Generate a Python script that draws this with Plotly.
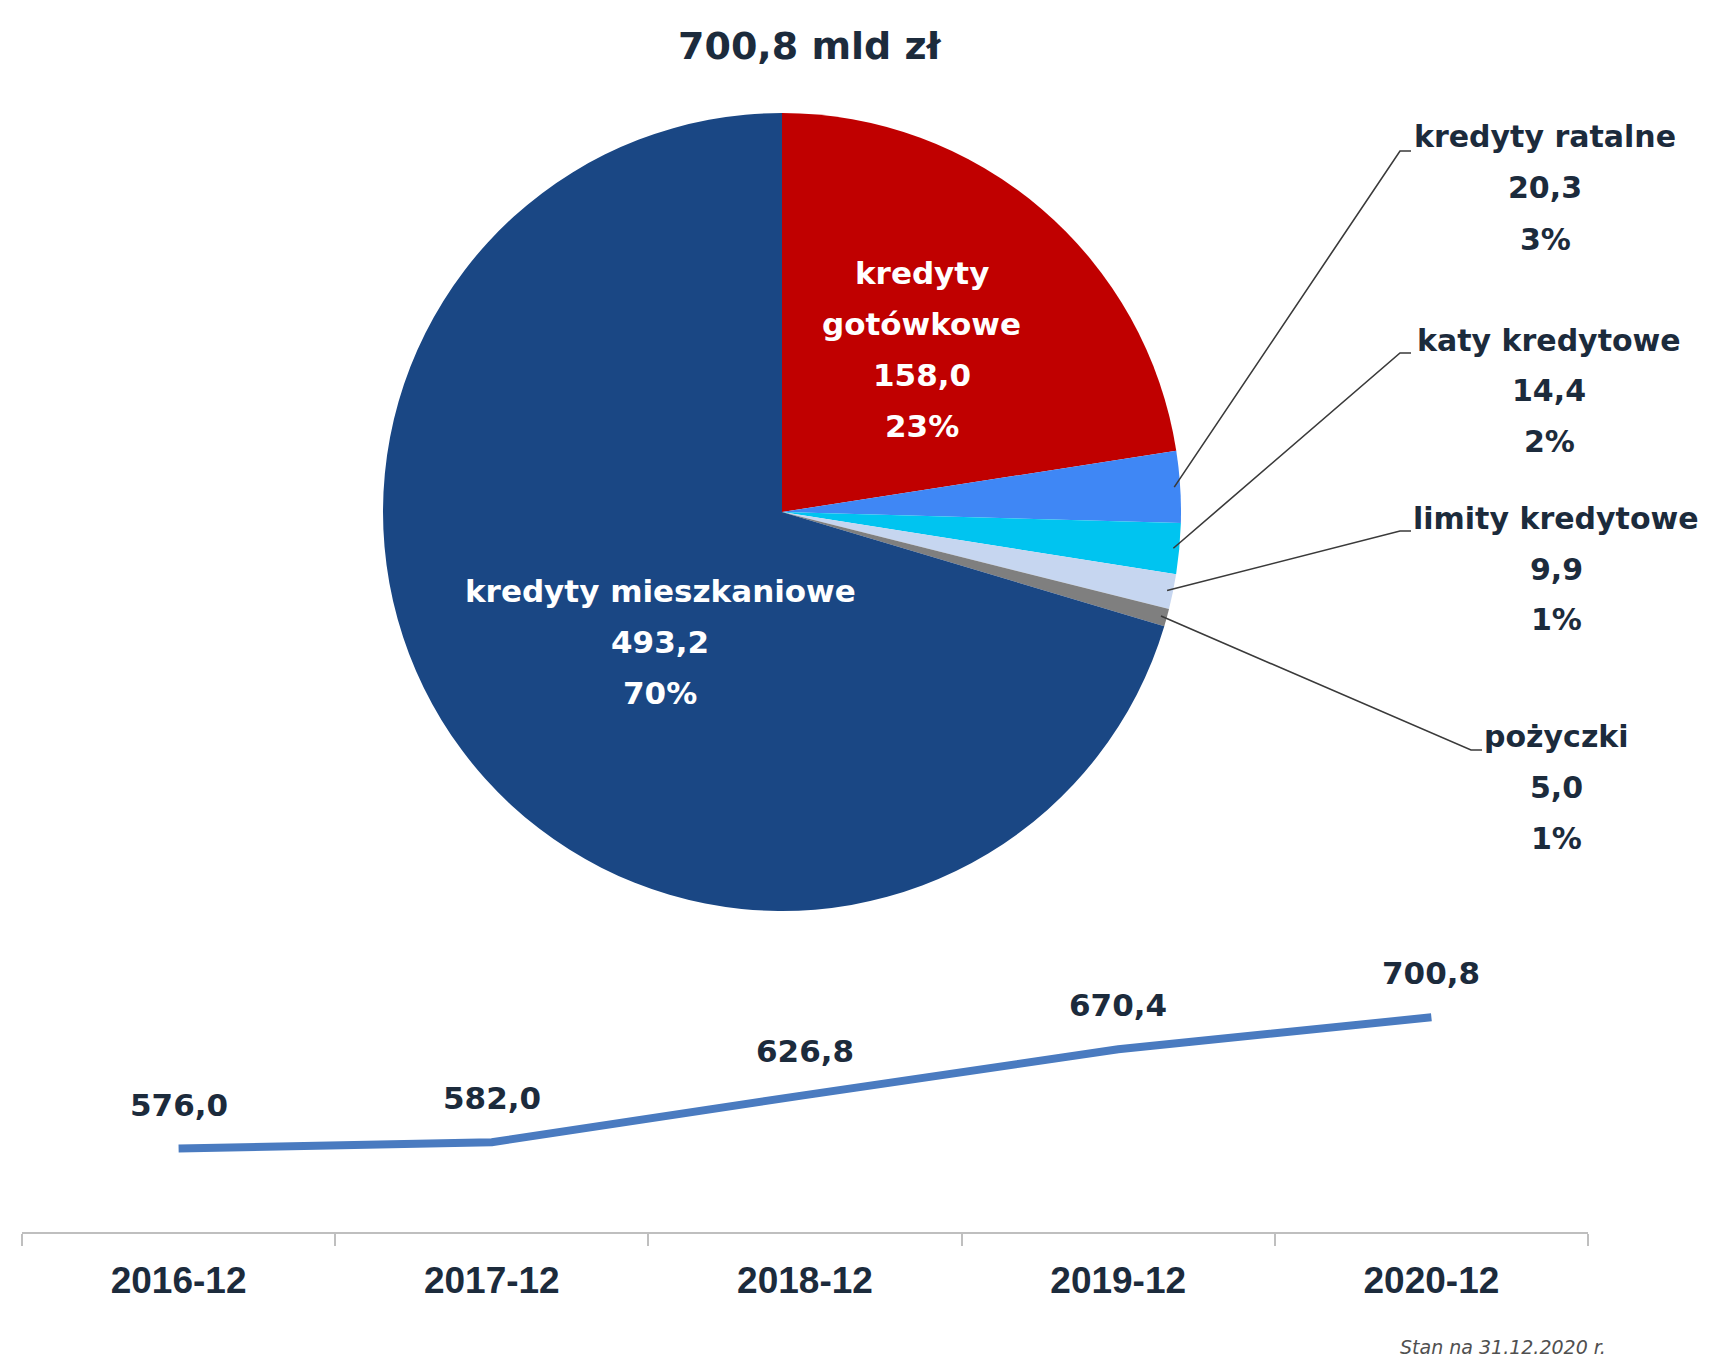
import math
import plotly.graph_objects as go

# ---------------- data ----------------
title_text = "700,8 mld zł"
pie_labels = ["kredyty gotówkowe", "kredyty ratalne", "katy kredytowe",
              "limity kredytowe", "pożyczki", "kredyty mieszkaniowe"]
pie_values = [158.0, 20.3, 14.4, 9.9, 5.0, 493.2]
pie_colors = ["#C00000", "#3F87F5", "#00C4F0", "#C6D6F0", "#7F7F7F", "#1A4784"]

years = ["2016-12", "2017-12", "2018-12", "2019-12", "2020-12"]
totals = [576.0, 582.0, 626.8, 670.4, 700.8]
footnote = "Stan na 31.12.2020 r."

# ---------------- layout constants ----------------
W, H = 1715, 1360
NAVY = "#1C2B3C"
FONT = "DejaVu Sans"
PCX, PCY, PR = 782, 512, 399          # pie centre / radius in px
LINE_STEP = 51


def px(x):
    return x / W


def py(y):
    return 1 - y / H


def fmt(v):
    return f"{v:.1f}".replace(".", ",")


total = sum(pie_values)

fig = go.Figure()

fig.add_trace(go.Pie(
    labels=pie_labels, values=pie_values, sort=False, direction="clockwise",
    rotation=0, marker=dict(colors=pie_colors, line=dict(width=0)),
    textinfo="none", hoverinfo="label+value+percent", showlegend=False,
    domain=dict(x=[px(PCX - PR), px(PCX + PR)], y=[py(PCY + PR), py(PCY - PR)]),
))

fig.add_trace(go.Scatter(
    x=years, y=totals, mode="lines", line=dict(color="#4A7BC0", width=8),
    xaxis="x", yaxis="y", showlegend=False, hoverinfo="x+y",
))

annotations = []
shapes = []


def add_lines(lines, xc, y0, size, color):
    for i, t in enumerate(lines):
        annotations.append(dict(
            x=px(xc), y=py(y0 + i * LINE_STEP), xref="paper", yref="paper",
            text=f"<b>{t}</b>", showarrow=False, xanchor="center", yanchor="middle",
            font=dict(family=FONT, size=size, color=color)))


# title
add_lines([title_text], 810, 46, 38, NAVY)

# angles
cum = 0.0
mids = []
for v in pie_values:
    mids.append((cum + v / 2) / total * 2 * math.pi)
    cum += v
pcts = [round(v / total * 100) for v in pie_values]

# inside labels
add_lines(["kredyty", "gotówkowe", fmt(pie_values[0]), f"{pcts[0]}%"], 922, 273, 31, "white")
add_lines([pie_labels[5], fmt(pie_values[5]), f"{pcts[5]}%"], 660, 591, 31, "white")

# outside labels with leader lines: (slice index, x centre, first line y, elbow x, elbow y)
outside = [(1, 1545, 137, 1400, 151),
           (2, 1549, 340, 1400, 353),
           (3, 1556, 518, 1400, 531),
           (4, 1556, 736, 1471, 750)]
for idx, xc, y0, ex, ey in outside:
    add_lines([pie_labels[idx], fmt(pie_values[idx]), f"{pcts[idx]}%"], xc, y0, 30, NAVY)
    a = mids[idx]
    sx = PCX + 0.985 * PR * math.sin(a)
    sy = PCY - 0.985 * PR * math.cos(a)
    path = (f"M {px(sx)},{py(sy)} L {px(ex)},{py(ey)} L {px(ex + 11)},{py(ey)}")
    shapes.append(dict(type="path", xref="paper", yref="paper", path=path,
                       line=dict(color="#3A3A3A", width=1.6)))

# line labels
for yr, v in zip(years, totals):
    annotations.append(dict(
        x=yr, y=v, xref="x", yref="y", text=f"<b>{fmt(v)}</b>", showarrow=False,
        yshift=44, xanchor="center", yanchor="middle",
        font=dict(family=FONT, size=31, color=NAVY)))

# footnote
annotations.append(dict(
    x=px(1503), y=py(1347), xref="paper", yref="paper", text=f"<i>{footnote}</i>",
    showarrow=False, xanchor="center", yanchor="middle",
    font=dict(family=FONT, size=19, color="#505050")))

AX_Y = 1232
fig.update_layout(
    width=W, height=H, margin=dict(l=0, r=0, t=0, b=0),
    paper_bgcolor="white", plot_bgcolor="white",
    xaxis=dict(domain=[px(22), px(1588)], type="category", range=[-0.5, 4.5],
               showline=True, linecolor="#BFBFBF", linewidth=2,
               ticks="outside", tickson="boundaries", ticklen=12, tickcolor="#BFBFBF",
               tickwidth=1.5, showgrid=False, zeroline=False,
               ticklabelstandoff=15,
               tickfont=dict(family="Liberation Sans", size=37, color=NAVY, weight="bold"),
               anchor="y"),
    yaxis=dict(domain=[py(AX_Y), py(960)],
               range=[576 - (AX_Y - 1148.5) / 1.0513, 576 + (1148.5 - 960) / 1.0513],
               visible=False, showgrid=False, zeroline=False, anchor="x"),
    annotations=annotations, shapes=shapes,
)

fig.write_html("out.html", config={"displayModeBar": False},
               post_script="document.body.style.margin='0';document.body.style.overflow='hidden';")
